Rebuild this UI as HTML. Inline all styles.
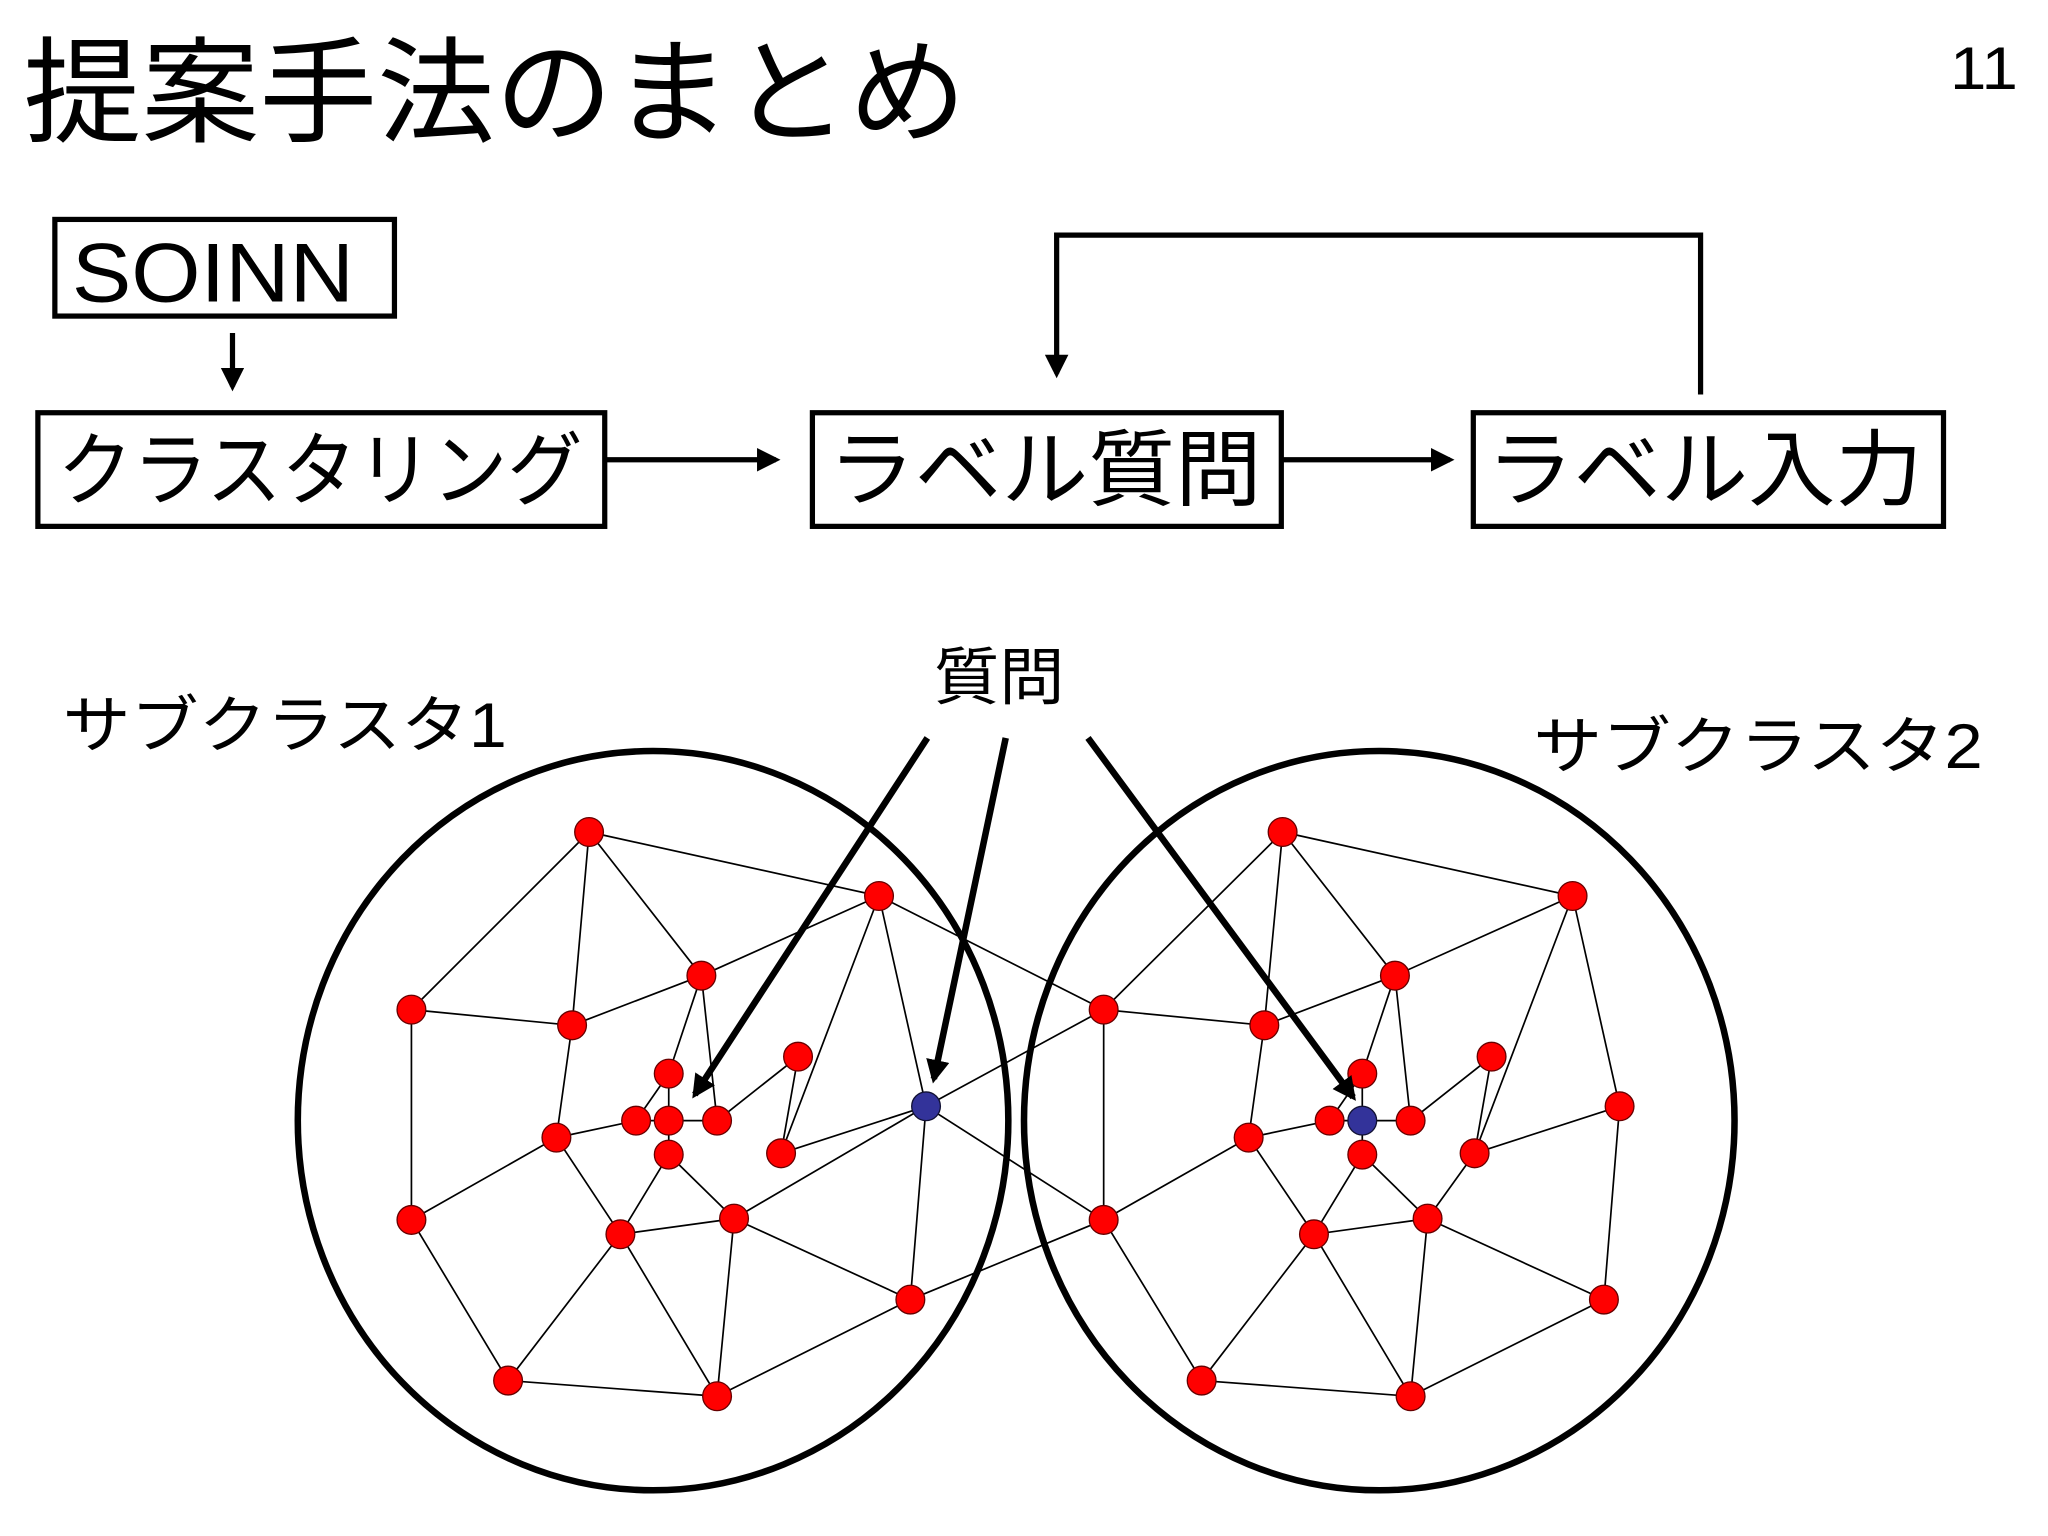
<!DOCTYPE html>
<html><head><meta charset="utf-8"><style>html,body{margin:0;padding:0;background:#fff}svg{display:block}</style></head>
<body>
<svg width="2048" height="1536" viewBox="0 0 1568 1176" xmlns="http://www.w3.org/2000/svg" font-family="'Liberation Sans','Noto Sans CJK JP',sans-serif">
<defs>
<marker id="ah2" viewBox="0 0 10 10" refX="8" refY="5" markerWidth="18" markerHeight="18" orient="auto" markerUnits="userSpaceOnUse"><path d="M0,0 L10,5 L0,10 z"/></marker></defs>
<rect width="1568" height="1176" fill="#fff"/>
<text x="18" y="102" font-size="88" textLength="722" lengthAdjust="spacingAndGlyphs">提案手法のまとめ</text>
<text x="1493" y="68" font-size="46" textLength="52" lengthAdjust="spacingAndGlyphs">11</text>
<g fill="none" stroke="#000" stroke-width="4">
<rect x="42" y="168" width="260" height="74"/>
<rect x="29" y="316" width="434" height="87"/>
<rect x="622" y="316" width="359" height="87"/>
<rect x="1128" y="316" width="360" height="87"/>
<line x1="178" y1="255" x2="178" y2="296" marker-end="url(#ah2)"/>
<line x1="463" y1="352" x2="594" y2="352" marker-end="url(#ah2)"/>
<line x1="981" y1="352" x2="1110" y2="352" marker-end="url(#ah2)"/>
<polyline points="1302,302 1302,180 809,180 809,286" marker-end="url(#ah2)"/>
</g>
<text x="55" y="231" font-size="64" textLength="216" lengthAdjust="spacingAndGlyphs">SOINN</text>
<text x="44" y="382" font-size="62" textLength="402" lengthAdjust="spacingAndGlyphs">クラスタリング</text>
<text x="634" y="382" font-size="64" textLength="332" lengthAdjust="spacingAndGlyphs">ラベル質問</text>
<text x="1138" y="382" font-size="64" textLength="334" lengthAdjust="spacingAndGlyphs">ラベル入力</text>
<text x="48" y="572" font-size="48" textLength="340" lengthAdjust="spacingAndGlyphs">サブクラスタ1</text>
<text x="1174" y="588" font-size="48" textLength="344" lengthAdjust="spacingAndGlyphs">サブクラスタ2</text>
<text x="715" y="535" font-size="48" textLength="100" lengthAdjust="spacingAndGlyphs">質問</text>
<g fill="none" stroke="#000" stroke-width="5">
<ellipse cx="500" cy="858" rx="272" ry="283"/>
<ellipse cx="1056" cy="858" rx="272" ry="283"/>
</g>
<g stroke="#000" stroke-width="1.3">
<path d="M451,637L673,686M451,637L315,773M451,637L438,785M451,637L537,747M315,773L438,785M315,773L315,934M438,785L537,747M438,785L426,871M537,747L512,822M537,747L549,858M673,686L537,747M673,686L598,883M673,686L709,847M611,809L549,858M611,809L598,883M512,822L487,858M426,871L487,858M426,871L315,934M426,871L475,945M315,934L389,1057M389,1057L475,945M389,1057L549,1069M475,945L549,1069M475,945L562,933M475,945L512,884M562,933L512,884M562,933L549,1069M562,933L697,995M562,933L709,847M549,1069L697,995M697,995L709,847M697,995L845,934M598,883L709,847M709,847L845,773M709,847L845,934M673,686L845,773M845,773L845,934M512,822L512,884M487,858L549,858"/>
<path d="M982,637L1204,686M982,637L845,773M982,637L968,785M982,637L1068,747M968,785L1068,747M968,785L956,871M845,773L968,785M1068,747L1043,822M1068,747L1080,858M1204,686L1068,747M1204,686L1129,883M1204,686L1240,847M1142,809L1080,858M1142,809L1129,883M1240,847L1129,883M1240,847L1228,995M1043,822L1018,858M956,871L1018,858M956,871L845,934M956,871L1006,945M845,934L920,1057M920,1057L1006,945M920,1057L1080,1069M1006,945L1080,1069M1006,945L1093,933M1006,945L1043,884M1093,933L1043,884M1093,933L1080,1069M1093,933L1228,995M1093,933L1129,883M1080,1069L1228,995M1043,822L1043,884M1018,858L1080,858"/>
</g>
<g fill="#f00" stroke="#600" stroke-width="1">
<circle cx="451" cy="637" r="11"/><circle cx="673" cy="686" r="11"/><circle cx="315" cy="773" r="11"/><circle cx="438" cy="785" r="11"/><circle cx="537" cy="747" r="11"/><circle cx="611" cy="809" r="11"/><circle cx="512" cy="822" r="11"/><circle cx="487" cy="858" r="11"/><circle cx="512" cy="858" r="11"/><circle cx="549" cy="858" r="11"/><circle cx="512" cy="884" r="11"/><circle cx="426" cy="871" r="11"/><circle cx="598" cy="883" r="11"/><circle cx="315" cy="934" r="11"/><circle cx="475" cy="945" r="11"/><circle cx="562" cy="933" r="11"/><circle cx="389" cy="1057" r="11"/><circle cx="549" cy="1069" r="11"/><circle cx="697" cy="995" r="11"/>
<circle cx="845" cy="773" r="11"/><circle cx="845" cy="934" r="11"/>
<circle cx="982" cy="637" r="11"/><circle cx="1204" cy="686" r="11"/><circle cx="968" cy="785" r="11"/><circle cx="1068" cy="747" r="11"/><circle cx="1142" cy="809" r="11"/><circle cx="1043" cy="822" r="11"/><circle cx="1018" cy="858" r="11"/><circle cx="1080" cy="858" r="11"/><circle cx="1043" cy="884" r="11"/><circle cx="956" cy="871" r="11"/><circle cx="1129" cy="883" r="11"/><circle cx="1006" cy="945" r="11"/><circle cx="1093" cy="933" r="11"/><circle cx="920" cy="1057" r="11"/><circle cx="1080" cy="1069" r="11"/><circle cx="1228" cy="995" r="11"/><circle cx="1240" cy="847" r="11"/>
</g>
<g fill="#33339a" stroke="#113" stroke-width="1"><circle cx="709" cy="847" r="11"/><circle cx="1043" cy="858" r="11"/></g>
<g stroke="#000" stroke-width="5" fill="none">
<line x1="710" y1="565" x2="532" y2="838" marker-end="url(#ah2)"/>
<line x1="770" y1="565" x2="715" y2="826" marker-end="url(#ah2)"/>
<line x1="833" y1="565" x2="1036" y2="840" marker-end="url(#ah2)"/>
</g>
</svg>
</body></html>
